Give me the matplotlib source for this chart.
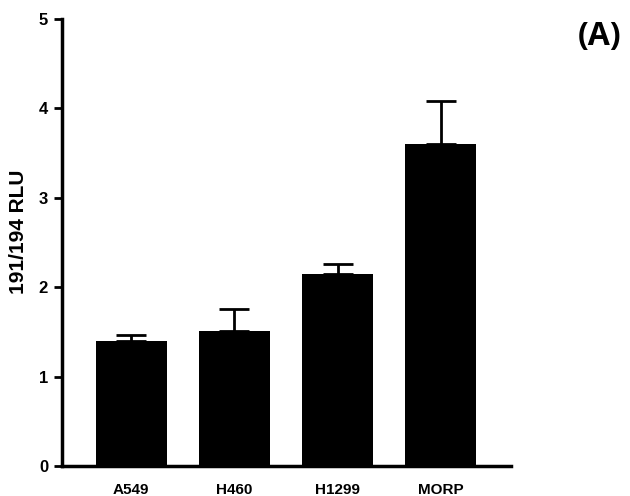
import matplotlib.pyplot as plt
import numpy as np

plt.rcParams['font.family'] = ['Liberation Sans', 'DejaVu Sans']

cell_lines = ["A549", "H460", "H1299", "MORP"]
rlu_ratio = [1.40, 1.51, 2.15, 3.60]
rlu_err = [0.07, 0.25, 0.11, 0.48]
y_ticks = [0, 1, 2, 3, 4, 5]

fig = plt.figure(figsize=(6.3, 4.96), dpi=100)
ax = fig.add_axes([0.0984, 0.0605, 0.7126, 0.9012])

x = np.arange(len(cell_lines))
ax.bar(x, rlu_ratio, width=0.69, color="black", zorder=2)
# upper error bars only
ax.errorbar(x, rlu_ratio, yerr=[np.zeros(len(x)), rlu_err], fmt="none",
            ecolor="black", elinewidth=2, capsize=10.8, capthick=2, zorder=1)

ax.set_xlim(-0.67, 3.68)
ax.set_ylim(0, 5)
ax.set_yticks(y_ticks)
ax.set_yticklabels([str(t) for t in y_ticks], fontsize=12, fontweight="bold")
ax.set_xticks(x)
ax.set_xticklabels(cell_lines, fontsize=11, fontweight="bold")
ax.tick_params(axis="x", length=0, pad=12)
ax.tick_params(axis="y", length=6, width=2, pad=4)

for side in ["top", "right"]:
    ax.spines[side].set_visible(False)
for side in ["left", "bottom"]:
    ax.spines[side].set_linewidth(2.5)

ax.set_ylabel("191/194 RLU", fontsize=15, fontweight="bold")
ax.yaxis.set_label_coords(-0.076, 0.523)

fig.text(0.951, 0.927, "(A)", fontsize=23, fontweight="bold",
         ha="center", va="center", family=["Open Sans", "DejaVu Sans"])

fig.savefig("out.png", dpi=100)
